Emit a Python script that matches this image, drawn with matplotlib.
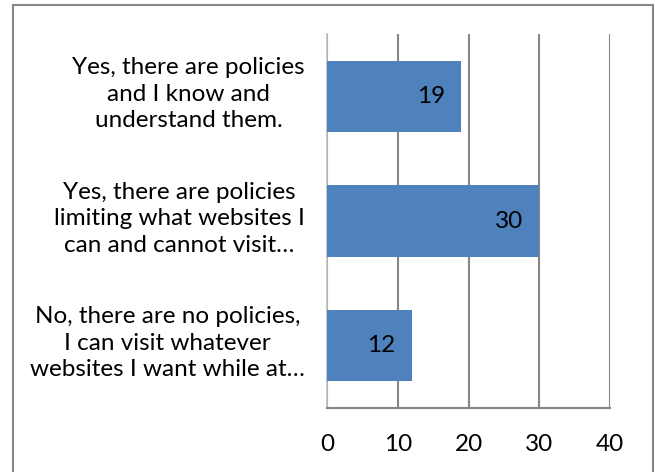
import matplotlib.pyplot as plt
from matplotlib.patches import Rectangle
from matplotlib.transforms import ScaledTranslation

categories = [
    "Yes, there are policies\nand I know and\nunderstand them.",
    "Yes, there are policies\nlimiting what websites I\ncan and cannot visit…",
    "No, there are no policies,\nI can visit whatever\nwebsites I want while at…",
]
counts = [19, 30, 12]
xticks = [0, 10, 20, 30, 40]

plt.rcParams["font.family"] = ["Lato", "DejaVu Sans"]
FS = 17.5

fig = plt.figure(figsize=(6.55, 4.72), dpi=100)
ax = fig.add_axes([327 / 655, 1 - 408 / 472, 283 / 655, 374 / 472])

pos = list(range(len(categories)))
ax.barh(pos, counts, height=0.57, color="#4F81BD", zorder=3)
for y, v in zip(pos, counts):
    ax.text(v - 2.3, y, str(v), ha="right", va="center", fontsize=FS, zorder=4)

ax.set_xlim(0, 40)
ax.set_ylim(len(categories) - 0.5, -0.5)
ax.set_xticks(xticks)
ax.set_yticks(pos)
ax.set_yticklabels(categories, multialignment="center", fontsize=FS, linespacing=1.32)
ax.tick_params(axis="both", length=0, labelsize=FS)
ax.tick_params(axis="x", pad=19)
ax.tick_params(axis="y", pad=16)
ax.grid(axis="x", color="#868686", linewidth=1.5, zorder=0)

# category text sits a little above the bar centre
shift = ScaledTranslation(0, 0.07, fig.dpi_scale_trans)
for lbl in ax.get_yticklabels():
    lbl.set_transform(lbl.get_transform() + shift)

for side in ["top", "right"]:
    ax.spines[side].set_visible(False)
ax.spines["left"].set_color("#BFBFBF")
ax.spines["left"].set_linewidth(1.2)
ax.spines["bottom"].set_color("#868686")
ax.spines["bottom"].set_linewidth(1.5)

# chart-area frame
fig.patches.append(Rectangle((13 / 655, -0.05), 640 / 655, 1 - 5 / 472 + 0.05,
                             transform=fig.transFigure, fill=False,
                             edgecolor="#868686", linewidth=1.5))

fig.savefig("out.png", dpi=100)
